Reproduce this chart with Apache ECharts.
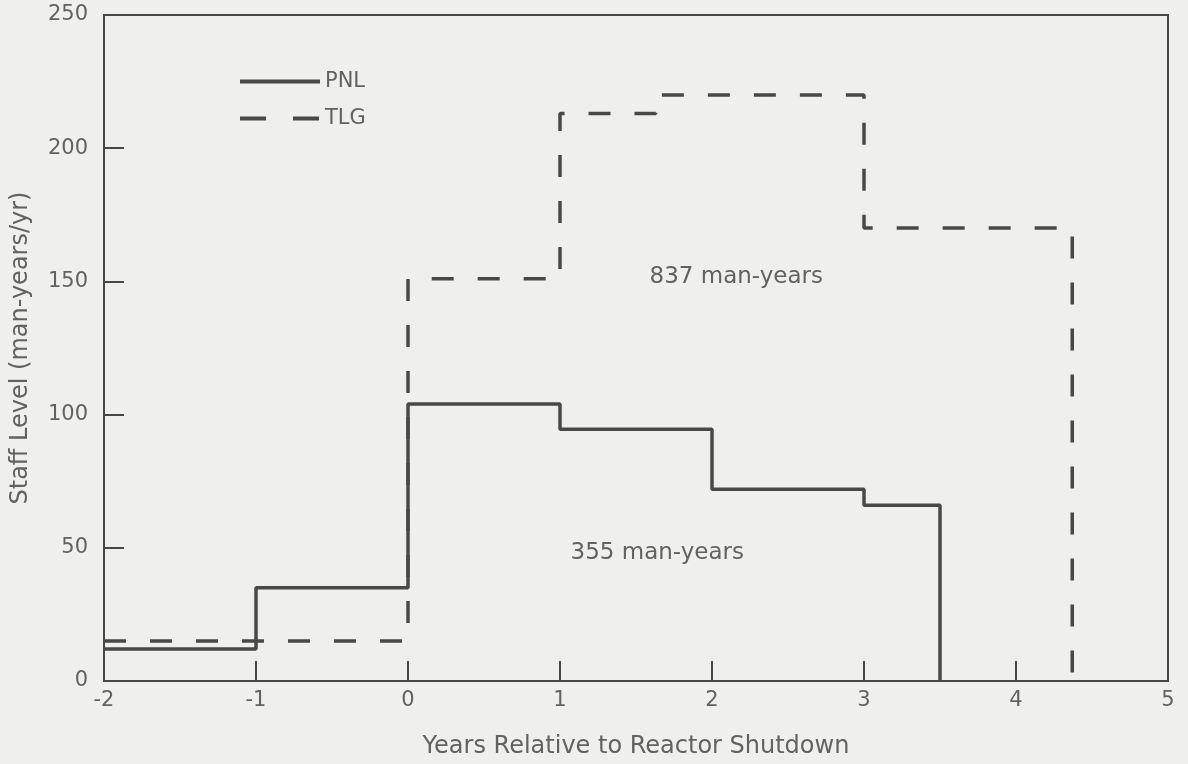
<!DOCTYPE html>
<html>
<head>
<meta charset="utf-8">
<script src="https://cdn.jsdelivr.net/npm/echarts@6/dist/echarts.min.js"></script>
<style>
html,body{margin:0;padding:0;background:#efefed;}
#c{width:1188px;height:764px;}
</style>
</head>
<body>
<div id="c"></div>
<script>
// Step breakpoints (x = years relative to shutdown, y = staff level)
var pnlX = [-2, -1, 0, 1, 2, 3, 3.5];
var pnlY = [12, 35, 104, 94.5, 72, 66, 0];
var tlgX = [-2, 0, 1, 1.63, 3, 4.37];
var tlgY = [15, 151, 213, 220, 170, 0];
var annotations = [
  {text: '837 man-years', x: 2.16, y: 151.5},
  {text: '355 man-years', x: 1.64, y: 48}
];
var xTicks = [-2, -1, 0, 1, 2, 3, 4, 5];
var yTicks = [0, 50, 100, 150, 200, 250];

function pairs(xs, ys){ return xs.map(function(x,i){ return [x, ys[i]]; }); }

var ink = '#484848';
var txt = '#626262';
var font = 'DejaVu Sans';

var chart = echarts.init(document.getElementById('c'));
chart.setOption({
  backgroundColor: '#efefed',
  animation: false,
  textStyle: {fontFamily: font},
  grid: {left: 104, right: 20, top: 15, bottom: 83, show: true, borderColor: ink, borderWidth: 2, backgroundColor: 'transparent'},
  legend: {
    orient: 'vertical', left: 233, top: 66, itemWidth: 80, itemHeight: 14, itemGap: 16,
    textStyle: {color: txt, fontSize: 21, fontFamily: font},
    itemStyle: {opacity: 0},
    lineStyle: {width: 4},
    data: [
      {name: 'PNL'},
      {name: 'TLG', lineStyle: {width: 4, type: [26, 27]}}
    ]
  },
  xAxis: {
    type: 'value', min: xTicks[0], max: xTicks[xTicks.length-1], interval: 1,
    name: 'Years Relative to Reactor Shutdown', nameLocation: 'middle', nameGap: 54,
    nameTextStyle: {color: txt, fontSize: 24, fontFamily: font},
    axisLine: {show: true, onZero: false, lineStyle: {color: ink, width: 2}},
    axisTick: {show: true, inside: true, length: 20, lineStyle: {color: ink, width: 2}},
    axisLabel: {color: txt, fontSize: 21, margin: 9, fontFamily: font},
    splitLine: {show: false}
  },
  yAxis: {
    type: 'value', min: yTicks[0], max: yTicks[yTicks.length-1], interval: 50,
    name: 'Staff Level (man-years/yr)', nameLocation: 'middle', nameGap: 71,
    nameTextStyle: {color: txt, fontSize: 24, fontFamily: font},
    axisLine: {show: true, onZero: false, lineStyle: {color: ink, width: 2}},
    axisTick: {show: true, inside: true, length: 20, lineStyle: {color: ink, width: 2}},
    axisLabel: {color: txt, fontSize: 21, margin: 16, fontFamily: font},
    splitLine: {show: false}
  },
  series: [
    {
      name: 'PNL', type: 'line', step: 'end', symbol: 'none',
      data: pairs(pnlX, pnlY),
      lineStyle: {color: ink, width: 3.5, type: 'solid'},
      itemStyle: {color: ink},
      markPoint: {
        symbol: 'circle', symbolSize: 0,
        label: {show: true, color: txt, fontSize: 23, fontFamily: font, formatter: '{b}', position: 'inside'},
        data: annotations.map(function(a){ return {name: a.text, coord: [a.x, a.y]}; })
      }
    },
    {
      name: 'TLG', type: 'line', step: 'end', symbol: 'none',
      data: pairs(tlgX, tlgY),
      lineStyle: {color: ink, width: 3.5, type: [22, 24]},
      itemStyle: {color: ink}
    }
  ]
});
</script>
</body>
</html>
